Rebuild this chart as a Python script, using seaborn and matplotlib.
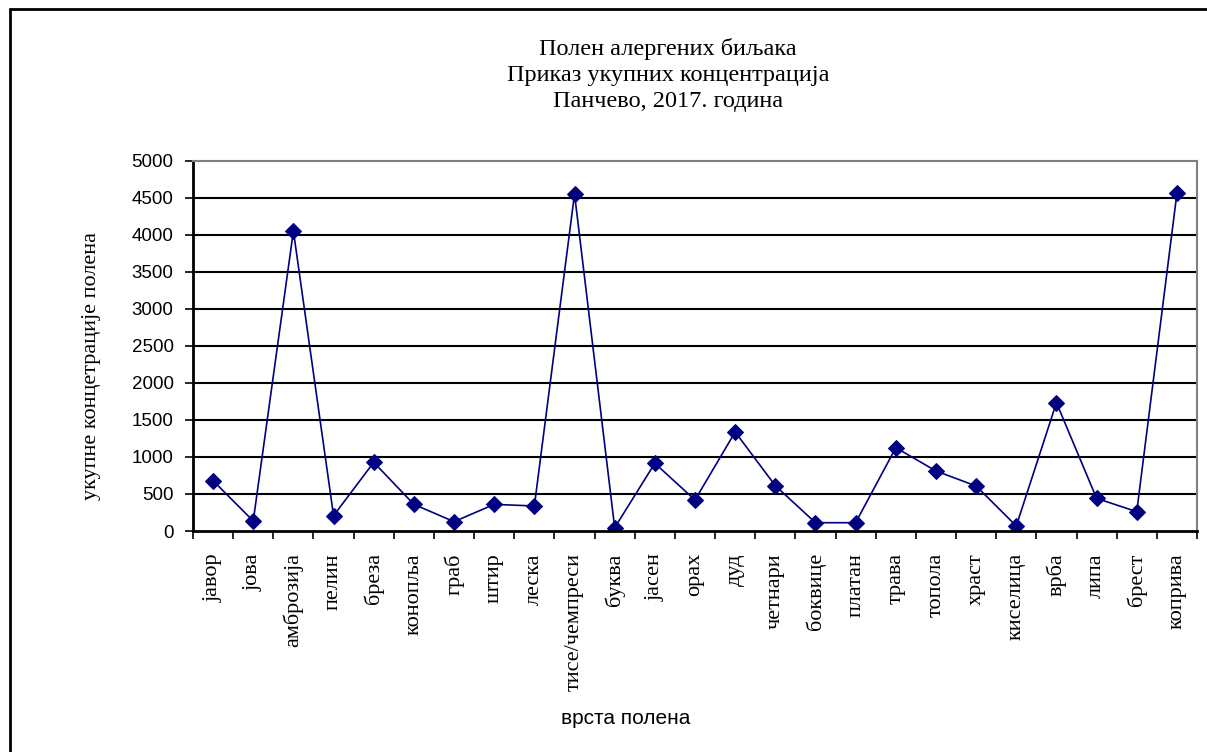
import matplotlib
matplotlib.use("Agg")
import matplotlib.pyplot as plt
import seaborn as sns
import pandas as pd
from matplotlib.lines import Line2D

categories = ["јавор", "јова", "амброзија", "пелин", "бреза", "конопља", "граб", "штир",
              "леска", "тисе/чемпреси", "буква", "јасен", "орах", "дуд", "четнари",
              "боквице", "платан", "трава", "топола", "храст", "киселица", "врба",
              "липа", "брест", "коприва"]
values = [680, 135, 4054, 207, 928, 360, 126, 360, 338, 4554, 45, 915, 419, 1338, 612,
          112, 112, 1126, 811, 608, 68, 1734, 441, 261, 4563]
yticks = [0, 500, 1000, 1500, 2000, 2500, 3000, 3500, 4000, 4500, 5000]

title_lines = ["Полен алергених биљака", "Приказ укупних концентрација", "Панчево, 2017. година"]
xlabel = "врста полена"
ylabel = "укупне концетрације полена"

sns.set_theme(style="white")
plt.rcParams['font.family'] = ['Liberation Serif', 'DejaVu Serif']
plt.rcParams['text.color'] = 'black'
plt.rcParams['axes.labelcolor'] = 'black'
plt.rcParams['xtick.color'] = 'black'
plt.rcParams['ytick.color'] = 'black'

df = pd.DataFrame({"cat": range(len(categories)), "val": values})

fig = plt.figure(figsize=(12.07, 7.52), dpi=100)
ax = fig.add_axes([193/1207, 1 - 531/752, (1197 - 193)/1207, (531 - 161)/752])

sns.lineplot(data=df, x="cat", y="val", ax=ax, color="#000080", linewidth=1.2,
             marker="D", markersize=8.5, markeredgecolor="#000080", markerfacecolor="#000080")

ax.set_xlim(-0.5, len(categories) - 0.5)
ax.set_ylim(0, 5000)
ax.set_yticks(yticks)
ax.set_yticklabels([str(v) for v in yticks], family=['Liberation Sans'], fontsize=13.5)
for v in yticks[1:-1]:
    ax.axhline(v, color="black", linewidth=1.5, zorder=0)

# category ticks at boundaries
ax.set_xticks([i - 0.5 for i in range(len(categories) + 1)])
ax.set_xticklabels([])
ax.set_xticks(range(len(categories)), minor=True)
ax.set_xticklabels(categories, minor=True, rotation=90, fontsize=16,
                   family=['Liberation Serif'])
ax.tick_params(axis="x", which="major", direction="out", length=6, width=1.2, bottom=True)
ax.tick_params(axis="x", which="minor", length=0, pad=16)
ax.tick_params(axis="y", which="major", direction="out", length=6, width=1.2, left=True, pad=8)

ax.set_xlabel(xlabel, family=['Liberation Sans'], fontsize=15)
ax.xaxis.set_label_coords((626 - 193)/1004, -(709 - 531)/370)
ax.set_ylabel(ylabel, fontsize=16)
ax.yaxis.set_label_coords((101 - 193)/1004, (531 - 366)/370)

for side in ["left", "bottom"]:
    ax.spines[side].set_color("black")
    ax.spines[side].set_linewidth(2)
for side in ["top", "right"]:
    ax.spines[side].set_color("#808080")
    ax.spines[side].set_linewidth(1.5)

fig.text(668/1207, 1 - 75/752, "\n".join(title_lines), ha="center", va="center",
         fontsize=17.5, linespacing=1.33, family=['Liberation Serif'])

# outer chart border
fig.add_artist(Line2D([9.5/1207, 9.5/1207], [0, 1 - 8.5/752], transform=fig.transFigure,
                      color="black", linewidth=2))
fig.add_artist(Line2D([9.5/1207, 1], [1 - 8.5/752, 1 - 8.5/752], transform=fig.transFigure,
                      color="black", linewidth=2))

fig.savefig("out.png", dpi=100, facecolor="white")
